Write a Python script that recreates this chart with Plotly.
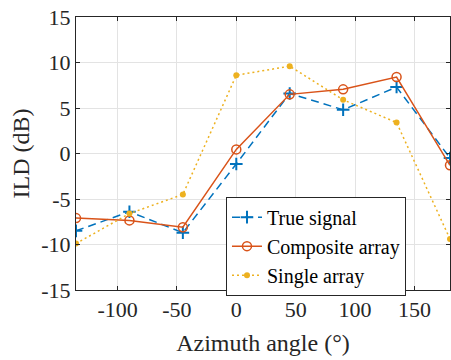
import plotly.graph_objects as go

azimuth = [-135, -90, -45, 0, 45, 90, 135, 180]
true_signal = [-8.5, -6.4, -8.7, -1.15, 6.6, 4.8, 7.3, -0.5]
composite_array = [-7.1, -7.35, -8.1, 0.45, 6.5, 7.05, 8.4, -1.3]
single_array = [-9.9, -6.6, -4.5, 8.6, 9.6, 5.9, 3.4, -9.4]

x_ticks = [-100, -50, 0, 50, 100, 150]
x_tick_labels = ["-100", "-50", "0", "50", "100", "150"]
y_ticks = [-15, -10, -5, 0, 5, 10, 15]
y_tick_labels = ["-15", "-10", "-5", "0", "5", "10", "15"]

font = "Liberation Serif"
ink = "#262626"

fig = go.Figure()
fig.add_trace(go.Scatter(x=azimuth, y=true_signal, name="True signal", mode="lines+markers",
                         line=dict(color="#0072BD", width=1.5, dash="8px,5px"),
                         marker=dict(symbol="cross-thin", size=9, line=dict(color="#0072BD", width=2))))
fig.add_trace(go.Scatter(x=azimuth, y=composite_array, name="Composite array", mode="lines+markers",
                         line=dict(color="#D95319", width=1.5),
                         marker=dict(symbol="circle-open", size=9, color="#D95319", line=dict(width=1.5))))
fig.add_trace(go.Scatter(x=azimuth, y=single_array, name="Single array", mode="lines+markers",
                         line=dict(color="#EDB120", width=1.5, dash="2px,3px"),
                         marker=dict(symbol="circle", size=6, color="#EDB120")))

axis_common = dict(showline=True, linecolor=ink, linewidth=1, mirror="ticks",
                   ticks="inside", ticklen=4, tickcolor=ink,
                   showgrid=True, gridcolor="#e3e3e3", gridwidth=1, zeroline=False,
                   tickfont=dict(family=font, size=22, color=ink))

fig.update_xaxes(range=[-135, 180], tickvals=x_ticks, ticktext=x_tick_labels,
                 title=dict(text="Azimuth angle (°)", font=dict(family=font, size=24, color=ink), standoff=12),
                 **axis_common)
fig.update_yaxes(range=[-15, 15], tickvals=y_ticks, ticktext=y_tick_labels,
                 title=dict(text="ILD (dB)", font=dict(family=font, size=24, color=ink), standoff=4),
                 **axis_common)

fig.update_layout(
    width=451, height=360,
    margin=dict(l=76, r=1, t=17, b=70),
    plot_bgcolor="white", paper_bgcolor="white",
    font=dict(family=font, size=22, color=ink),
    legend=dict(x=0.401, y=0.342, xanchor="left", yanchor="top",
                bgcolor="white", bordercolor=ink, borderwidth=1,
                font=dict(family=font, size=20, color="#000000"),
                tracegroupgap=0, itemwidth=30),
    showlegend=True,
)

fig.write_html("out.html", config={"displayModeBar": False},
               post_script="document.body.style.margin='0';")
